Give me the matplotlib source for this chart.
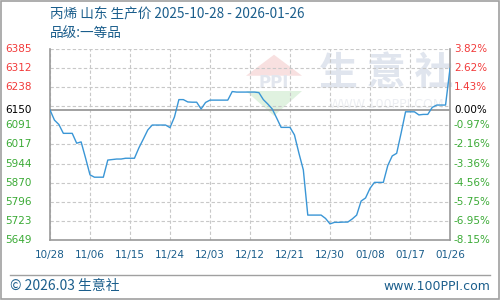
import numpy as np
import pandas as pd
import matplotlib
matplotlib.use("Agg")
import matplotlib.pyplot as plt
import matplotlib.dates as mdates
from matplotlib.patches import Rectangle, Polygon
from matplotlib.lines import Line2D

plt.rcParams['font.family'] = ['Noto Sans CJK SC', 'DejaVu Sans']

# daily price, 2025-10-28 .. 2026-01-26
START = "2025-10-28"
PRICES = [6150, 6111, 6094, 6060, 6060, 6060, 6022, 6027, 5965, 5900,
          5891, 5891, 5891, 5957, 5959, 5961, 5961, 5964, 5964, 5964,
          6004, 6038, 6073, 6092, 6092, 6092, 6092, 6082, 6123, 6190,
          6190, 6181, 6180, 6180, 6154, 6179, 6188, 6188, 6188, 6188,
          6188, 6221, 6219, 6219, 6219, 6219, 6219, 6217, 6190, 6173,
          6154, 6119, 6083, 6083, 6083, 6054, 5984, 5919, 5745, 5745,
          5745, 5745, 5732, 5711, 5717, 5717, 5718, 5718, 5730, 5745,
          5799, 5811, 5848, 5871, 5871, 5871, 5936, 5973, 5983, 6061,
          6143, 6143, 6143, 6131, 6133, 6133, 6160, 6169, 6169, 6169,
          6310]
BASE = 6150
Y_MIN, Y_MAX = 5649, 6385
# labels listed top to bottom
LEFT_LABELS = ["6385", "6312", "6238", "6150", "6091", "6017", "5944", "5870", "5796", "5723", "5649"]
RIGHT_LABELS = ["3.82%", "2.62%", "1.43%", "0.00%", "-0.97%", "-2.16%", "-3.36%", "-4.56%", "-5.75%", "-6.95%", "-8.15%"]
TITLE = "丙烯 山东 生产价 2025-10-28 - 2026-01-26"
SUBTITLE = "品级:一等品"

dates = pd.date_range(START, periods=len(PRICES), freq="D")

RED = "#f23a3a"
GREEN = "#3aaa35"
BLUE_TXT = "#1b5e8c"
LINE = "#3a96d6"
GRID = "#c8c8c8"
AXC = "#9a9a9a"

fig = plt.figure(figsize=(5, 3), dpi=100)
fig.patch.set_facecolor("white")
fig.add_artist(Rectangle((0.001, 0.002), 0.997, 0.995, transform=fig.transFigure,
                         fill=False, edgecolor="#a0a0a0", lw=1.2))

ax = fig.add_axes([50/500, 60/300, 400/500, 191/300])
ax.set_xlim(dates[0], dates[-1])
ax.set_ylim(Y_MIN, Y_MAX)

# grid
grid_y = np.linspace(Y_MIN, Y_MAX, 11)
ax.set_yticks(grid_y)
ax.set_xticks(dates[::9])
ax.grid(True, color=GRID, ls=(0, (3, 2)), lw=0.8)
ax.tick_params(length=0, labelleft=False)
ax.xaxis.set_major_formatter(mdates.DateFormatter("%m/%d"))
for lab in ax.get_xticklabels():
    lab.set_fontfamily("DejaVu Sans")
    lab.set_fontsize(7.5)
    lab.set_color(BLUE_TXT)
ax.tick_params(axis="x", pad=7)

ax.spines["top"].set_visible(False)
for s in ["left", "bottom", "right"]:
    ax.spines[s].set_color(AXC)
    ax.spines[s].set_linewidth(1.2)

ax.axhline(BASE, color=AXC, lw=1.3, zorder=2)

# watermark
ax.add_patch(Polygon([[0.56, 0.97], [0.49, 0.86], [0.63, 0.86]], closed=True,
                     transform=ax.transAxes, color="#f8e0e0", zorder=0, lw=0))
ax.add_patch(Polygon([[0.49, 0.78], [0.63, 0.78], [0.56, 0.65]], closed=True,
                     transform=ax.transAxes, color="#e0f2e0", zorder=0, lw=0))
ax.text(0.56, 0.82, "PPI", transform=ax.transAxes, ha="center", va="center",
        fontsize=12, color="#e2e6ee", fontweight="bold", family="DejaVu Sans", zorder=0)
ax.text(0.84, 0.87, "生 意 社", transform=ax.transAxes, ha="center", va="center",
        fontsize=28, color="#e0e5ee", fontweight="bold", zorder=0)
ax.text(0.84, 0.71, "WWW.100PPI.COM", transform=ax.transAxes, ha="center", va="center",
        fontsize=9, color="#eceef2", family="DejaVu Sans", zorder=0)

ax.plot(dates, PRICES, color=LINE, lw=1.0, zorder=3)

# y labels, top to bottom
label_vals = list(grid_y[::-1])
label_vals[3] = BASE
ytr = ax.get_yaxis_transform()
for v, l, r in zip(label_vals, LEFT_LABELS, RIGHT_LABELS):
    c = RED if v > BASE + 1 else (GREEN if v < BASE - 1 else "black")
    ax.text(-45/400, v, l, transform=ytr, ha="left", va="center",
            fontsize=7.5, color=c, family="DejaVu Sans")
    ax.text(1 + 4/400, v, r, transform=ytr, ha="left", va="center",
            fontsize=7.5, color=c, family="DejaVu Sans")

fig.text(50/500, 1 - 15/300, TITLE, ha="left", va="center", fontsize=9.8, color=BLUE_TXT)
fig.text(50/500, 1 - 33/300, SUBTITLE, ha="left", va="center", fontsize=9.8, color=BLUE_TXT)

fig.add_artist(Line2D([10/500, 490/500], [1 - 275/300] * 2, transform=fig.transFigure,
                      color="#a0a0a0", lw=1.0))
fig.text(10/500, 1 - 286/300, "© 2026.03 生意社", ha="left", va="center",
         fontsize=10, color=BLUE_TXT)
fig.text(490/500, 1 - 286/300, "www.100PPI.com", ha="right", va="center",
         fontsize=9, color=BLUE_TXT, family="DejaVu Sans")

fig.savefig("out.png", dpi=100)
